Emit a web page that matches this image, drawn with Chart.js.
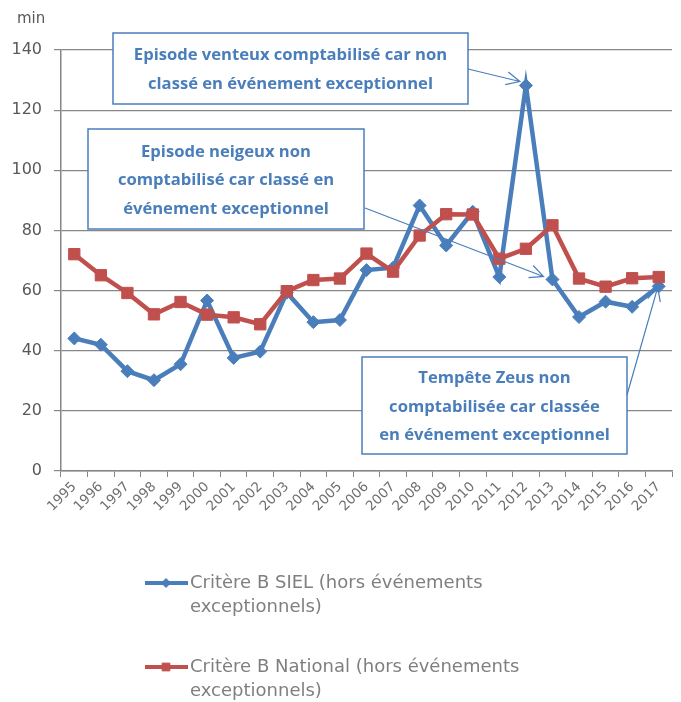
<!DOCTYPE html>
<html lang="fr">
<head>
<meta charset="UTF-8">
<title>Critère B - temps de coupure</title>
<script src="https://cdn.jsdelivr.net/npm/chart.js"></script>
<style>
    html, body { margin: 0; padding: 0; background: #ffffff; }
    .wrap { position: relative; width: 681px; height: 702px; }
</style>
</head>
<body>
<div class="wrap"><canvas id="critereB"></canvas></div>
<script>
const annees = ['1995','1996','1997','1998','1999','2000','2001','2002','2003','2004','2005','2006',
                '2007','2008','2009','2010','2011','2012','2013','2014','2015','2016','2017'];
const critereSiel = [44.1, 42.0, 33.2, 30.2, 35.5, 56.7, 37.6, 39.7, 59.3, 49.5, 50.2, 66.8,
                     67.6, 88.3, 75.0, 86.2, 64.5, 128.2, 63.7, 51.2, 56.3, 54.6, 61.4];
const critereNational = [72.1, 65.1, 59.2, 52.1, 56.2, 52.0, 51.1, 48.8, 59.8, 63.5, 64.0, 72.3,
                         66.3, 78.3, 85.4, 85.3, 70.6, 73.9, 81.7, 64.0, 61.3, 64.1, 64.5];
const libelles = ['Critère B SIEL (hors événements exceptionnels)',
                  'Critère B National (hors événements exceptionnels)'];

const BLEU = '#4a7ebb';
const ROUGE = '#c0504d';
const GRIS = '#868686';
const TEXTE = '#595959';

// encadrés de commentaires, chacun pointe vers une année de la série SIEL
const notes = [
    { lignes: ['Episode venteux comptabilisé car non', 'classé en événement exceptionnel'],
      box: [113, 33, 468, 104], from: [468, 69], annee: '2012', dx: -6, dy: -4 },
    { lignes: ['Episode neigeux non', 'comptabilisé car classé en', 'événement exceptionnel'],
      box: [88, 129, 364, 229], from: [365, 208], annee: '2013', dx: -9, dy: -3 },
    { lignes: ['Tempête Zeus non', 'comptabilisée car classée', 'en événement exceptionnel'],
      box: [362, 357, 627, 454], from: [627, 395], annee: '2017', dx: -1, dy: 1 }
];

function fleche(ctx, x1, y1, x2, y2) {
    const a = Math.atan2(y2 - y1, x2 - x1), L = 15, w = 0.45;
    ctx.beginPath();
    ctx.moveTo(x1, y1); ctx.lineTo(x2, y2);
    ctx.moveTo(x2 - L * Math.cos(a - w), y2 - L * Math.sin(a - w));
    ctx.lineTo(x2, y2);
    ctx.lineTo(x2 - L * Math.cos(a + w), y2 - L * Math.sin(a + w));
    ctx.stroke();
}

const decor = {
    id: 'decor',
    afterDraw(chart) {
        const ctx = chart.ctx;
        const xs = chart.scales.x, ys = chart.scales.y;
        ctx.save();
        // unité de l'axe
        ctx.fillStyle = TEXTE;
        ctx.font = '15px "DejaVu Sans"';
        ctx.textBaseline = 'middle';
        ctx.textAlign = 'left';
        ctx.fillText('min', 17, 19);

        // commentaires
        notes.forEach(n => {
            const [l, t, r, b] = n.box;
            ctx.fillStyle = '#ffffff';
            ctx.fillRect(l, t, r - l, b - t);
            ctx.strokeStyle = BLEU;
            ctx.lineWidth = 1.5;
            ctx.strokeRect(l, t, r - l, b - t);
            ctx.fillStyle = BLEU;
            ctx.font = 'bold 16.6px "Open Sans"';
            ctx.textAlign = 'center';
            ctx.textBaseline = 'middle';
            const cy = (t + b) / 2 + 1.5, h = 28.5;
            n.lignes.forEach((s, i) => {
                ctx.fillText(s, (l + r) / 2, cy + (i - (n.lignes.length - 1) / 2) * h);
            });
            const i = annees.indexOf(n.annee);
            const px = xs.getPixelForValue(i) + n.dx;
            const py = ys.getPixelForValue(critereSiel[i]) + n.dy;
            ctx.lineWidth = 1.2;
            fleche(ctx, n.from[0], n.from[1], px, py);
        });

        // légende
        const items = [
            { couleur: BLEU, style: 'rectRot', r: 4.5, y: 583, ds: 0 },
            { couleur: ROUGE, style: 'rect', r: 5.5, y: 667, ds: 1 }
        ];
        items.forEach(it => {
            ctx.strokeStyle = it.couleur;
            ctx.lineWidth = 4;
            ctx.beginPath();
            ctx.moveTo(145, it.y); ctx.lineTo(188, it.y);
            ctx.stroke();
            ctx.fillStyle = it.couleur;
            ctx.lineWidth = 1;
            Chart.helpers.drawPoint(ctx, { pointStyle: it.style, radius: it.r, borderWidth: 1 }, 166, it.y);
            ctx.fillStyle = '#7f7f7f';
            ctx.font = '18px "DejaVu Sans"';
            ctx.textAlign = 'left';
            ctx.textBaseline = 'middle';
            const txt = libelles[it.ds];
            const cut = txt.indexOf(' exceptionnels');
            ctx.fillText(txt.slice(0, cut), 190, it.y);
            ctx.fillText(txt.slice(cut + 1), 190, it.y + 24);
        });
        ctx.restore();
    }
};

new Chart(document.getElementById('critereB'), {
    type: 'line',
    data: {
        labels: annees,
        datasets: [
            {
                label: libelles[0], data: critereSiel, order: 1,
                borderColor: BLEU, backgroundColor: BLEU, borderWidth: 4.5,
                pointStyle: 'rectRot', pointRadius: 6.5, pointBorderWidth: 1,
                pointBackgroundColor: BLEU, pointBorderColor: BLEU, tension: 0
            },
            {
                label: libelles[1], data: critereNational, order: 0,
                borderColor: ROUGE, backgroundColor: ROUGE, borderWidth: 4.5,
                pointStyle: 'rect', pointRadius: 8, pointBorderWidth: 1,
                pointBackgroundColor: ROUGE, pointBorderColor: ROUGE, tension: 0
            }
        ]
    },
    options: {
        responsive: true, maintainAspectRatio: false, animation: false,
        layout: { padding: { top: 50, right: 9, bottom: 160, left: 0 } },
        plugins: { legend: { display: false }, tooltip: { enabled: false } },
        scales: {
            x: {
                offset: true,
                afterFit: s => { s.height = 71; },
                grid: { drawOnChartArea: false, drawTicks: true, tickLength: 6, color: GRIS, offset: true },
                border: { color: GRIS, width: 1.5 },
                ticks: { color: '#6f6f6f', font: { family: 'DejaVu Sans', size: 13.5 }, minRotation: 45, maxRotation: 45, autoSkip: false, padding: 2 }
            },
            y: {
                min: 0, max: 140,
                afterFit: s => { s.width = 61; },
                grid: { color: GRIS, lineWidth: 1.2, tickLength: 7 },
                border: { color: GRIS, width: 1.5 },
                ticks: { stepSize: 20, color: TEXTE, font: { family: 'DejaVu Sans', size: 16 }, padding: 12 }
            }
        }
    },
    plugins: [decor]
});
</script>
</body>
</html>
